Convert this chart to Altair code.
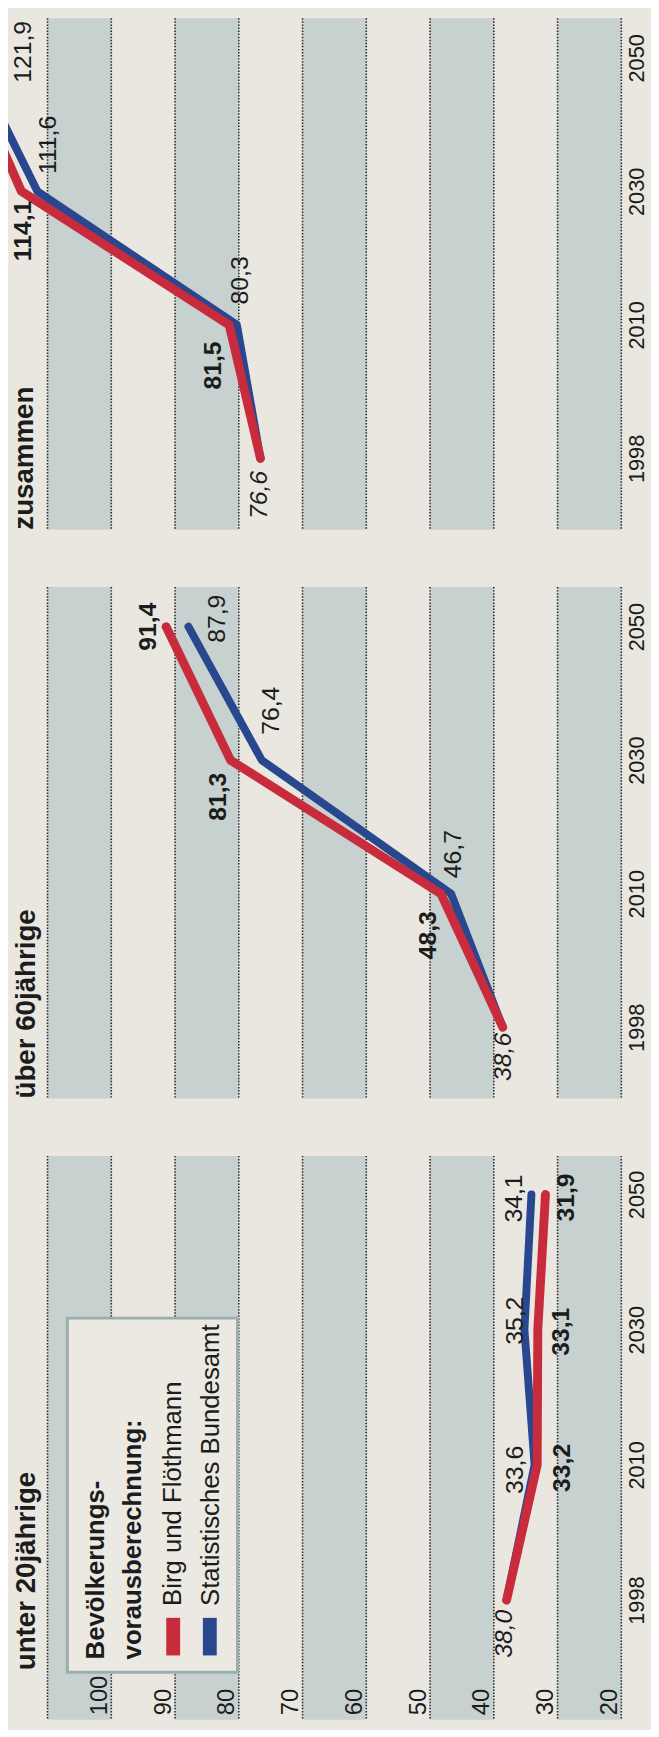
import altair as alt
import pandas as pd

# ---------------- data ----------------
YEARS = ["1998", "2010", "2030", "2050"]
PANEL_TITLES = ["zusammen", "über 60jährige", "unter 20jährige"]
SERIES = ["Birg und Flöthmann", "Statistisches Bundesamt"]
LEGEND_HEADING = ["Bevölkerungs-", "vorausberechnung:"]

zus_birg = [76.6, 81.5, 114.1, 123.3]
zus_stba = [76.6, 80.3, 111.6, 121.9]
ue60_birg = [38.6, 48.3, 81.3, 91.4]
ue60_stba = [38.6, 46.7, 76.4, 87.9]
u20_birg = [38.0, 33.2, 33.1, 31.9]
u20_stba = [38.0, 33.6, 35.2, 34.1]

STRIPE_FROM = [20, 40, 60, 80, 100]
STRIPE_TO = [30, 50, 70, 90, 110]
GRID_VALUES = [20, 30, 40, 50, 60, 70, 80, 90, 100, 110]
AXIS_VALUES = [20, 30, 40, 50, 60, 70, 80, 90, 100]

# ---------------- style ----------------
FONT = "Liberation Sans"
PAPER = "#e9e7e0"
STRIPE = "#c7d1cf"
RED = "#c82c3c"
BLUE = "#28478e"
INK = "#1c1c1c"
BOX_FILL = "#ece9e2"
BOX_EDGE = "#9aaeae"

W = 620
X_LEFT = 116.2
X_RIGHT = 20


def fmt(v):
    return f"{v:.1f}".replace(".", ",")


# label placement: (year index, which, screen dx, screen dy)
PLACE_TOP = [(0, "start", -2, 37), (1, "birg", -17, 41), (1, "stba", 2, -45),
             (2, "birg", 1, 40), (2, "stba", 10, -47), (3, "stba", 51, -6)]
PLACE_MID = [(0, "start", -1, 30), (1, "birg", -14, 42), (1, "stba", 1, -40),
             (2, "birg", -14, 37), (2, "stba", 8, -50), (3, "birg", -19, 0),
             (3, "stba", 28, -8)]
PLACE_BOT = [(0, "start", -3, 34), (1, "stba", -21, 5), (1, "birg", 24, 3),
             (2, "stba", -10, -9), (2, "birg", 23, 2), (3, "stba", -19, 4),
             (3, "birg", 20, 3)]


def panel(title, birg, stba, height, pad, align, places, title_xy,
          value_axis=False, legend=False):
    xscale = alt.Scale(domain=[X_LEFT, X_RIGHT], nice=False, zero=False)
    if value_axis:
        xaxis = alt.Axis(values=AXIS_VALUES, orient="bottom", offset=-5,
                         labelPadding=0, ticks=False, tickSize=0, domain=False,
                         grid=False, labelAngle=270, labelAlign="left",
                         labelBaseline="bottom", labelFontSize=24, labelFont=FONT,
                         labelColor=INK, labelOverlap=False, labelFlush=False,
                         title=None, zindex=2)
    else:
        xaxis = None
    yscale = alt.Scale(type="point", domain=YEARS[::-1], padding=pad, align=align)
    yaxis = alt.Axis(orient="right", labelAngle=270, labelAlign="center",
                     labelBaseline="top", labelPadding=5, ticks=False, tickSize=0,
                     domain=False, grid=False, labelFontSize=22, labelFont=FONT,
                     labelColor=INK, title=None, zindex=2, labelOverlap=False)

    def X(field):
        return alt.X(field, type="quantitative", scale=xscale, axis=xaxis)

    Y = alt.Y("year:O", scale=yscale, axis=yaxis)

    layers = []
    stripes = pd.DataFrame({"lo": STRIPE_FROM, "hi": STRIPE_TO})
    layers.append(alt.Chart(stripes).mark_rect(color=STRIPE).encode(
        x=X("lo"), x2="hi:Q", y=alt.value(0), y2=alt.value("height")))
    grid = pd.DataFrame({"g": GRID_VALUES})
    layers.append(alt.Chart(grid).mark_rule(color="#2a2a2a", strokeWidth=1.6,
                                            strokeDash=[1.5, 1.6]).encode(x=X("g")))

    tdf = pd.DataFrame({"t": [title]})
    layers.append(alt.Chart(tdf).mark_text(angle=270, align="left", baseline="middle",
                                           fontSize=28, fontWeight="bold", font=FONT,
                                           color=INK).encode(
        x=alt.value(title_xy[0]), y=alt.value(title_xy[1]), text="t:N"))

    if legend:
        box = pd.DataFrame({"k": [0]})
        layers.append(alt.Chart(box).mark_rect(fill=BOX_FILL, stroke=BOX_EDGE,
                                               strokeWidth=3).encode(
            x=alt.value(60), x2=alt.value(232), y=alt.value(164), y2=alt.value(522)))
        for txt, xx in zip(LEGEND_HEADING, [89, 126]):
            layers.append(alt.Chart(pd.DataFrame({"t": [txt]})).mark_text(
                angle=270, align="left", baseline="middle", fontSize=26,
                fontWeight="bold", font=FONT, color=INK).encode(
                x=alt.value(xx), y=alt.value(509), text="t:N"))
        for name, col, xx in zip(SERIES, [RED, BLUE], [160, 197]):
            layers.append(alt.Chart(pd.DataFrame({"s": [name]})).mark_rect(
                color=col).encode(x=alt.value(xx), x2=alt.value(xx + 14),
                                  y=alt.value(467), y2=alt.value(505)))
        for name, xx in zip(SERIES, [167, 205]):
            layers.append(alt.Chart(pd.DataFrame({"t": [name]})).mark_text(
                angle=270, align="left", baseline="middle", fontSize=26,
                font=FONT, color=INK).encode(
                x=alt.value(xx), y=alt.value(455), text="t:N"))

    b_df = pd.DataFrame({"year": YEARS, "value": stba})
    r_df = pd.DataFrame({"year": YEARS, "value": birg})
    layers.append(alt.Chart(b_df).mark_line(color=BLUE, strokeWidth=8, strokeCap="round",
                                            strokeJoin="round", clip=True).encode(
        x=X("value"), y=Y, order=alt.Order("year:O")))
    layers.append(alt.Chart(r_df).mark_line(color=RED, strokeWidth=9, strokeCap="round",
                                            strokeJoin="round", clip=True).encode(
        x=X("value"), y=Y, order=alt.Order("year:O")))

    for i, kind, sx, sy in places:
        if kind == "stba":
            v, weight, style = stba[i], "normal", "normal"
        elif kind == "birg":
            v, weight, style = birg[i], "bold", "normal"
        else:
            v, weight, style = birg[i], "normal", "italic"
        d = pd.DataFrame({"year": [YEARS[i]], "value": [v], "label": [fmt(v)]})
        layers.append(alt.Chart(d).mark_text(
            angle=270, align="center", baseline="middle", dx=-sy, dy=sx + 1,
            fontSize=25, font=FONT, fontWeight=weight, fontStyle=style,
            color=INK, clip=True).encode(x=X("value"), y=Y, text="label:N"))

    return alt.layer(*layers).properties(width=W, height=height)


top = panel(PANEL_TITLES[0], zus_birg, zus_stba, 517, 0.415, 0.357, PLACE_TOP, (17, 517))
mid = panel(PANEL_TITLES[1], ue60_birg, ue60_stba, 517, 0.415, 0.357, PLACE_MID, (19, 517))
bot = panel(PANEL_TITLES[2], u20_birg, u20_stba, 570, 0.585, 0.244, PLACE_BOT, (19, 520),
            value_axis=True, legend=True)

chart = alt.vconcat(top, mid, bot, spacing=58, bounds="flush",
                    padding={"left": 0, "top": 0, "right": 4, "bottom": 0},
                    background=PAPER).configure_view(stroke=None)
chart.save("out.html", embed_options={"renderer": "svg", "actions": False})
